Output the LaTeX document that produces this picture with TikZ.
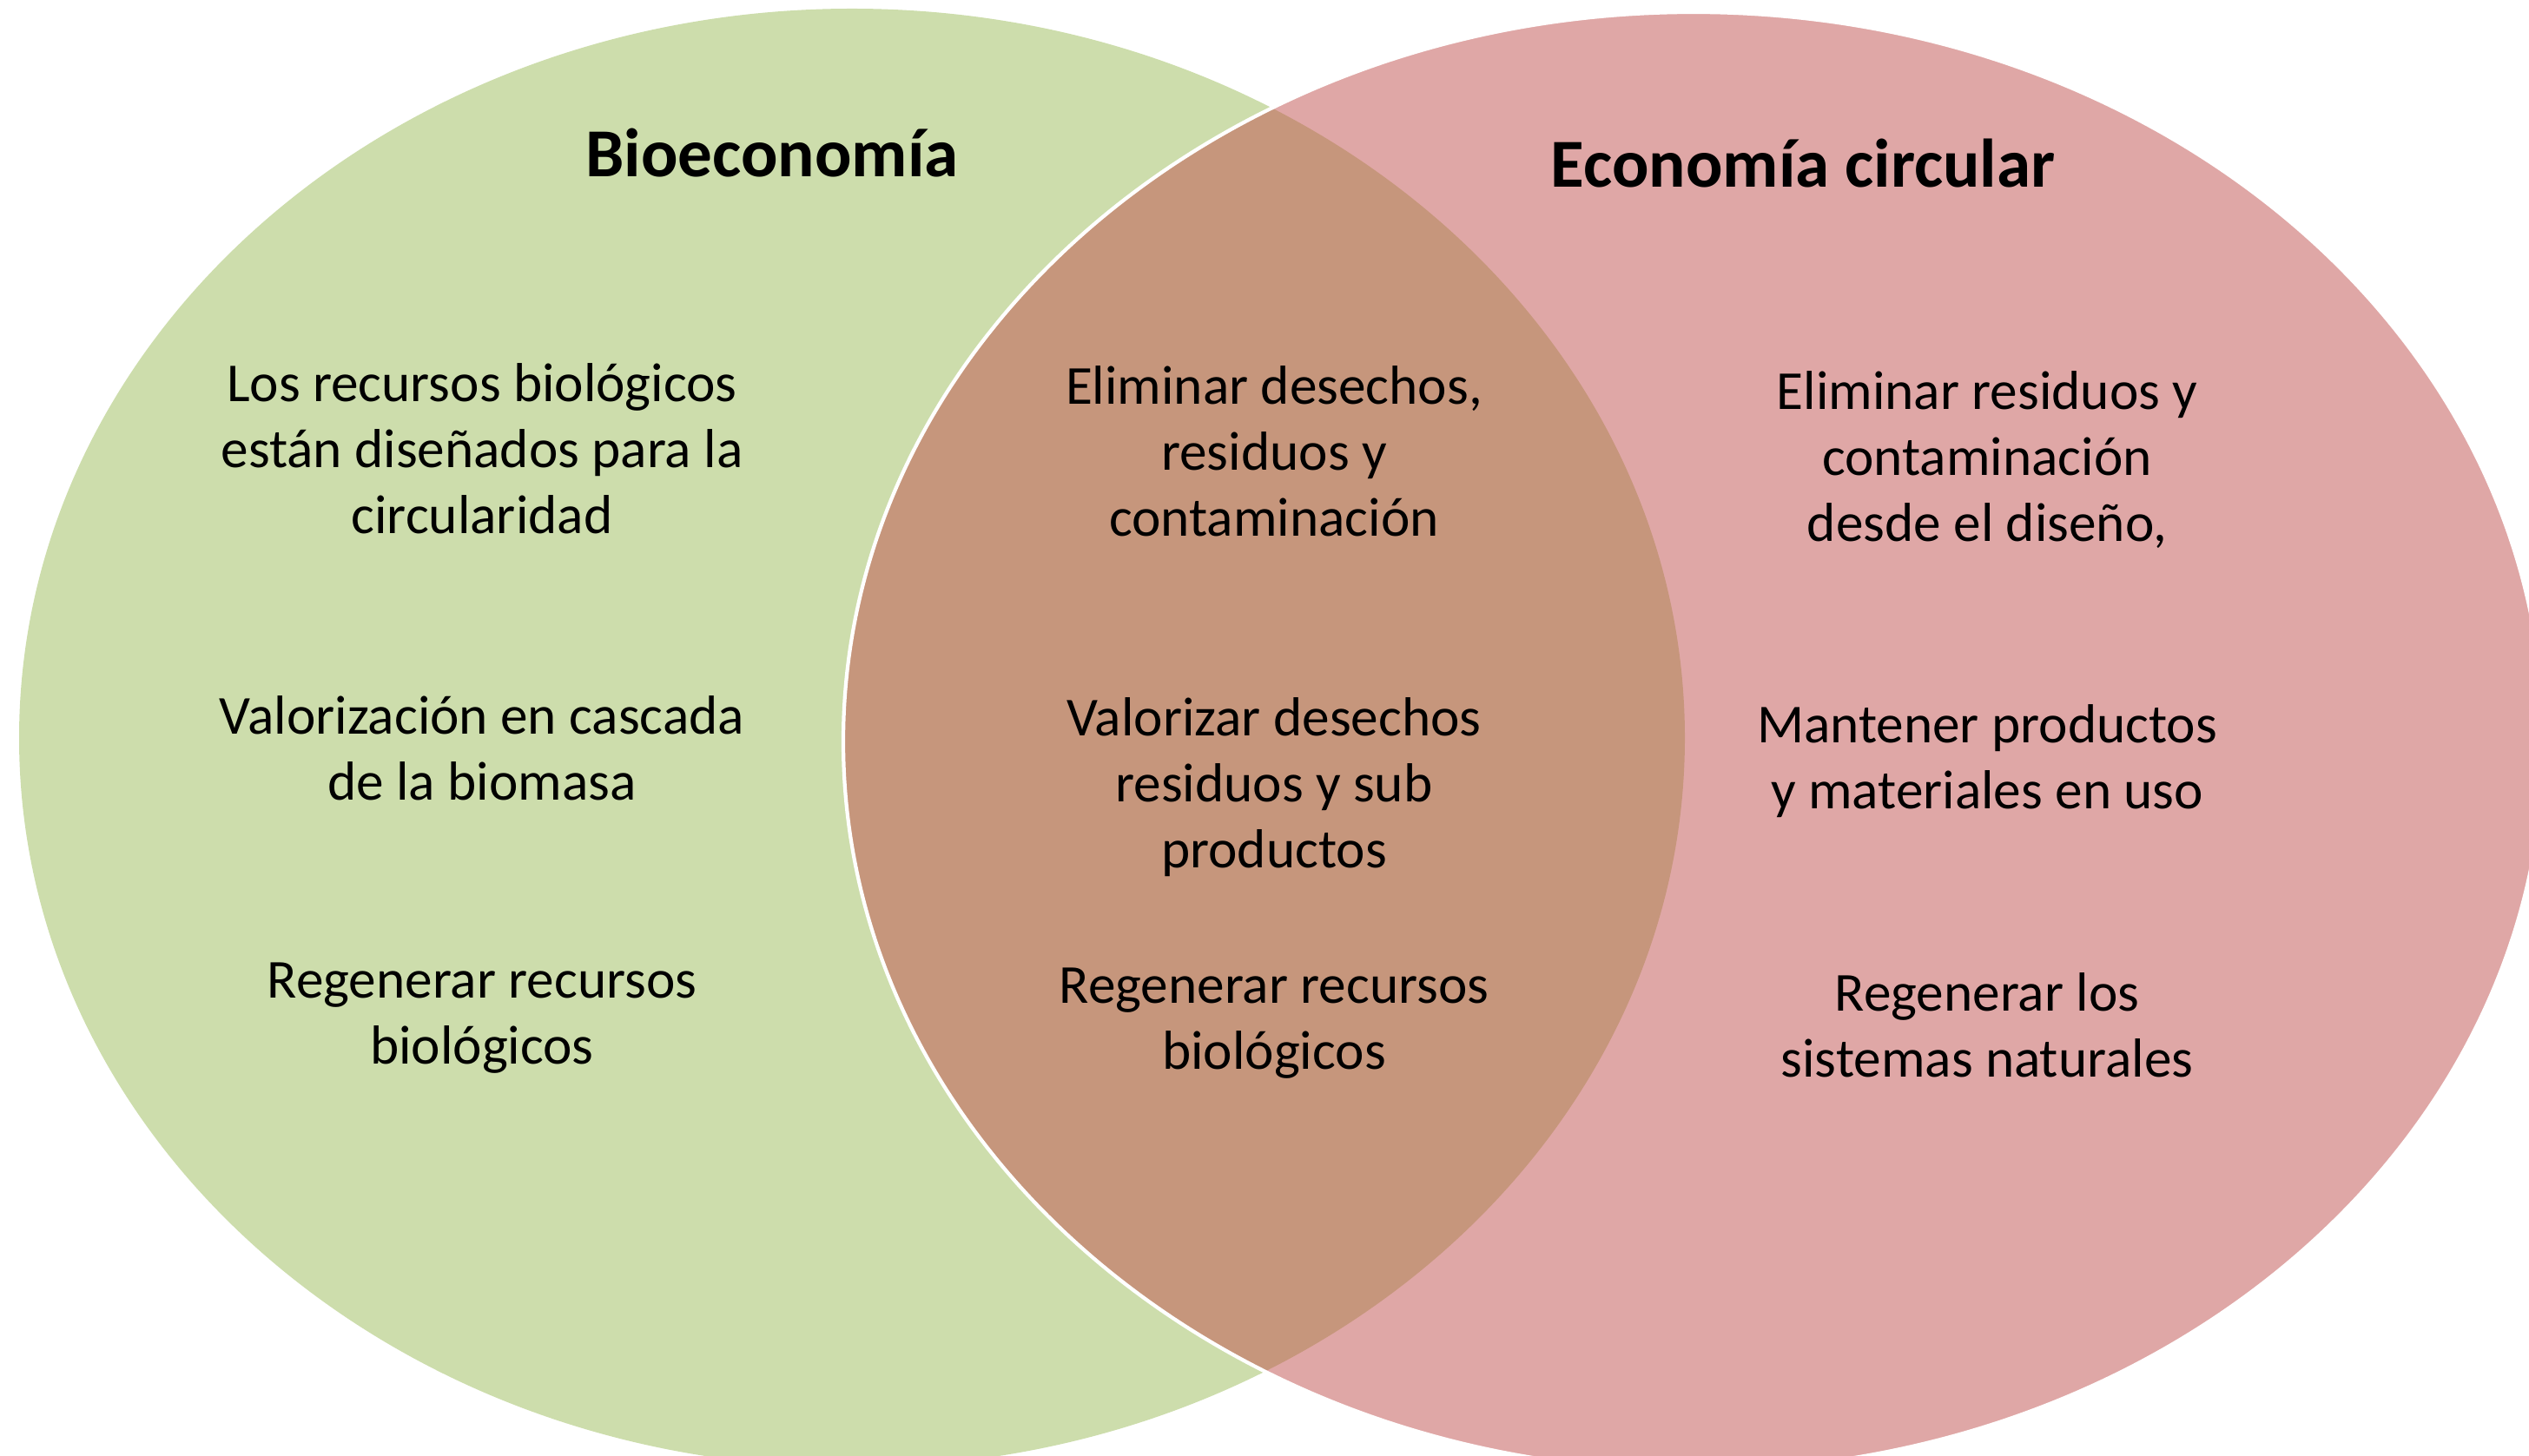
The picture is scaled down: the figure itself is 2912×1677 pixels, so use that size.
\documentclass[tikz,border=0pt]{standalone}
\usepackage{fontspec}
\setmainfont{Carlito}
\definecolor{bioverde}{HTML}{9BBB59}
\definecolor{circrojo}{HTML}{C0504D}
\begin{document}
\begin{tikzpicture}
		[x=0.01cm,y=0.01cm,
		mytext/.style={align=center,inner sep=0pt,font=\fontsize{18}{21.6}\selectfont},
		mytitle/.style={inner sep=0pt,font=\fontsize{22.5}{27}\selectfont\bfseries}]
		\useasboundingbox (0,0) rectangle (2912,-1677);
		% circulos
		\fill[bioverde,fill opacity=0.5] (981,-850) ellipse [x radius=959,y radius=840];
		\filldraw[fill=circrojo,fill opacity=0.5,draw=white,line width=1.2pt] (1950,-854) ellipse [x radius=979,y radius=840];
		% titulos
		\node[mytitle,name=t1] at (889,-176) {Bioeconomía};
		\node[mytitle,name=t2] at (2076,-188) {Economía circular};
		% izquierda
		\node[mytext,name=b1] at (555,-517) {Los recursos biológicos\\están diseñados para la\\circularidad};
		\node[mytext,name=b2] at (555,-862) {Valorización en cascada\\de la biomasa};
		\node[mytext,name=b3] at (555,-1173) {Regenerar recursos\\biológicos};
		% centro
		\node[mytext,name=m1] at (1467,-520) {Eliminar desechos,\\residuos y\\contaminación};
		\node[mytext,name=m2] at (1467,-907) {Valorizar desechos\\residuos y sub\\productos};
		\node[mytext,name=m3] at (1467,-1179) {Regenerar recursos\\biológicos};
		% derecha
		\node[mytext,name=c1] at (2288,-530) {Eliminar residuos y\\contaminación\\desde el diseño,};
		\node[mytext,name=c2] at (2288,-877) {Mantener productos\\y materiales en uso};
		\node[mytext,name=c3] at (2288,-1181) {Regenerar los\\sistemas naturales};
	\end{tikzpicture}
\end{document}
